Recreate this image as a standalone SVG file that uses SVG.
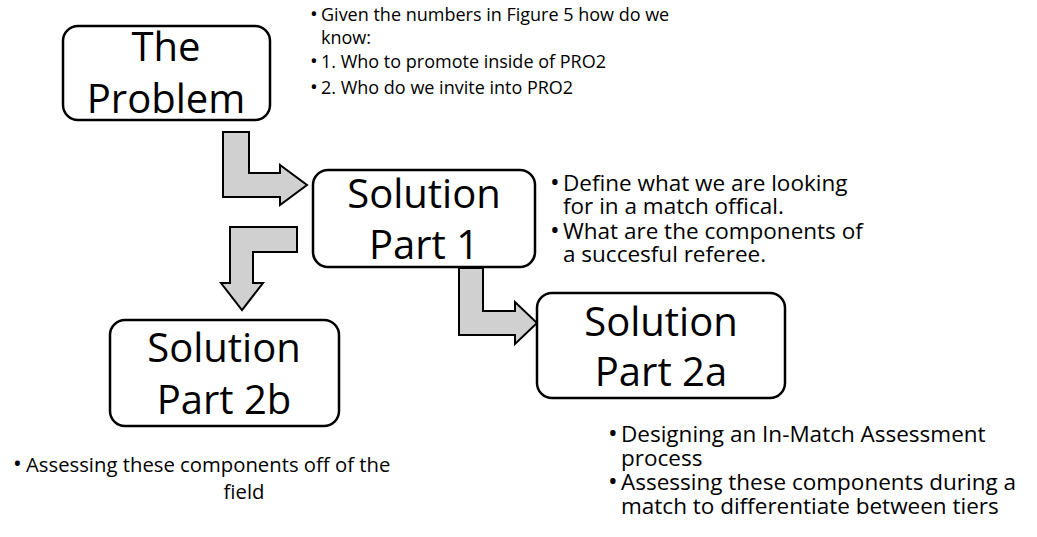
<svg xmlns="http://www.w3.org/2000/svg" width="1037" height="537" viewBox="0 0 1037 537">
<style>
.box{fill:#fff;stroke:#000;stroke-width:2.5}
.arr{fill:#d0d0d0;stroke:#000;stroke-width:2;stroke-linejoin:miter}
.big{font-family:"Open Sans","Liberation Sans",sans-serif;font-size:40px;fill:#000;text-anchor:middle}
.bul{font-family:"Open Sans","Liberation Sans",sans-serif;fill:#000}
#notes-problem{font-size:18px}
#notes-part1{font-size:22.5px}
#notes-part2b{font-size:20.3px}
#notes-part2a{font-size:22.5px}
.dot{font-size:1.15em}
</style>
<rect width="1037" height="537" fill="#fff"/>
<g id="connectors">
<polygon class="arr" points="223,132 249,132 249,173 280,173 280,165 307,185 280,205 280,197 223,197"/>
<polygon class="arr" points="297,227 297,252 253,252 253,283 263,283 242,310 221,283 230,283 230,227"/>
<polygon class="arr" points="459,268 483,268 483,311 515,311 515,302 537,323 515,344 515,335 459,335"/>
</g>
<g id="problem">
<rect class="box" x="63" y="26" width="207" height="94" rx="15"/>
<text class="big" x="166" y="61">The</text>
<text class="big" x="166" y="113">Problem</text>
</g>
<g id="part1">
<rect class="box" x="313" y="170" width="222" height="97" rx="15"/>
<text class="big" x="424" y="208">Solution</text>
<text class="big" x="424" y="259">Part 1</text>
</g>
<g id="part2b">
<rect class="box" x="110" y="320" width="229" height="106" rx="15"/>
<text class="big" x="224" y="362">Solution</text>
<text class="big" x="224" y="414">Part 2b</text>
</g>
<g id="part2a">
<rect class="box" x="537" y="293" width="248" height="105" rx="15"/>
<text class="big" x="661" y="336">Solution</text>
<text class="big" x="661" y="386">Part 2a</text>
</g>
<g id="notes-problem" class="bul">
<text x="310" y="21"><tspan class="dot">•</tspan><tspan x="321">Given the numbers in Figure 5 how do we</tspan></text>
<text x="321" y="44">know:</text>
<text x="310" y="68"><tspan class="dot">•</tspan><tspan x="321">1. Who to promote inside of PRO2</tspan></text>
<text x="310" y="94"><tspan class="dot">•</tspan><tspan x="321">2. Who do we invite into PRO2</tspan></text>
</g>
<g id="notes-part1" class="bul">
<text x="550" y="191"><tspan class="dot">•</tspan><tspan x="563">Define what we are looking</tspan></text>
<text x="563" y="214">for in a match offical.</text>
<text x="550" y="239"><tspan class="dot">•</tspan><tspan x="563">What are the components of</tspan></text>
<text x="563" y="262">a succesful referee.</text>
</g>
<g id="notes-part2b" class="bul">
<text x="13" y="472"><tspan class="dot">•</tspan><tspan x="26">Assessing these components off of the</tspan></text>
<text x="244" y="499" text-anchor="middle">field</text>
</g>
<g id="notes-part2a" class="bul">
<text x="608" y="442"><tspan class="dot">•</tspan><tspan x="621">Designing an In-Match Assessment</tspan></text>
<text x="621" y="466">process</text>
<text x="608" y="490"><tspan class="dot">•</tspan><tspan x="621">Assessing these components during a</tspan></text>
<text x="621" y="514">match to differentiate between tiers</text>
</g>
</svg>
